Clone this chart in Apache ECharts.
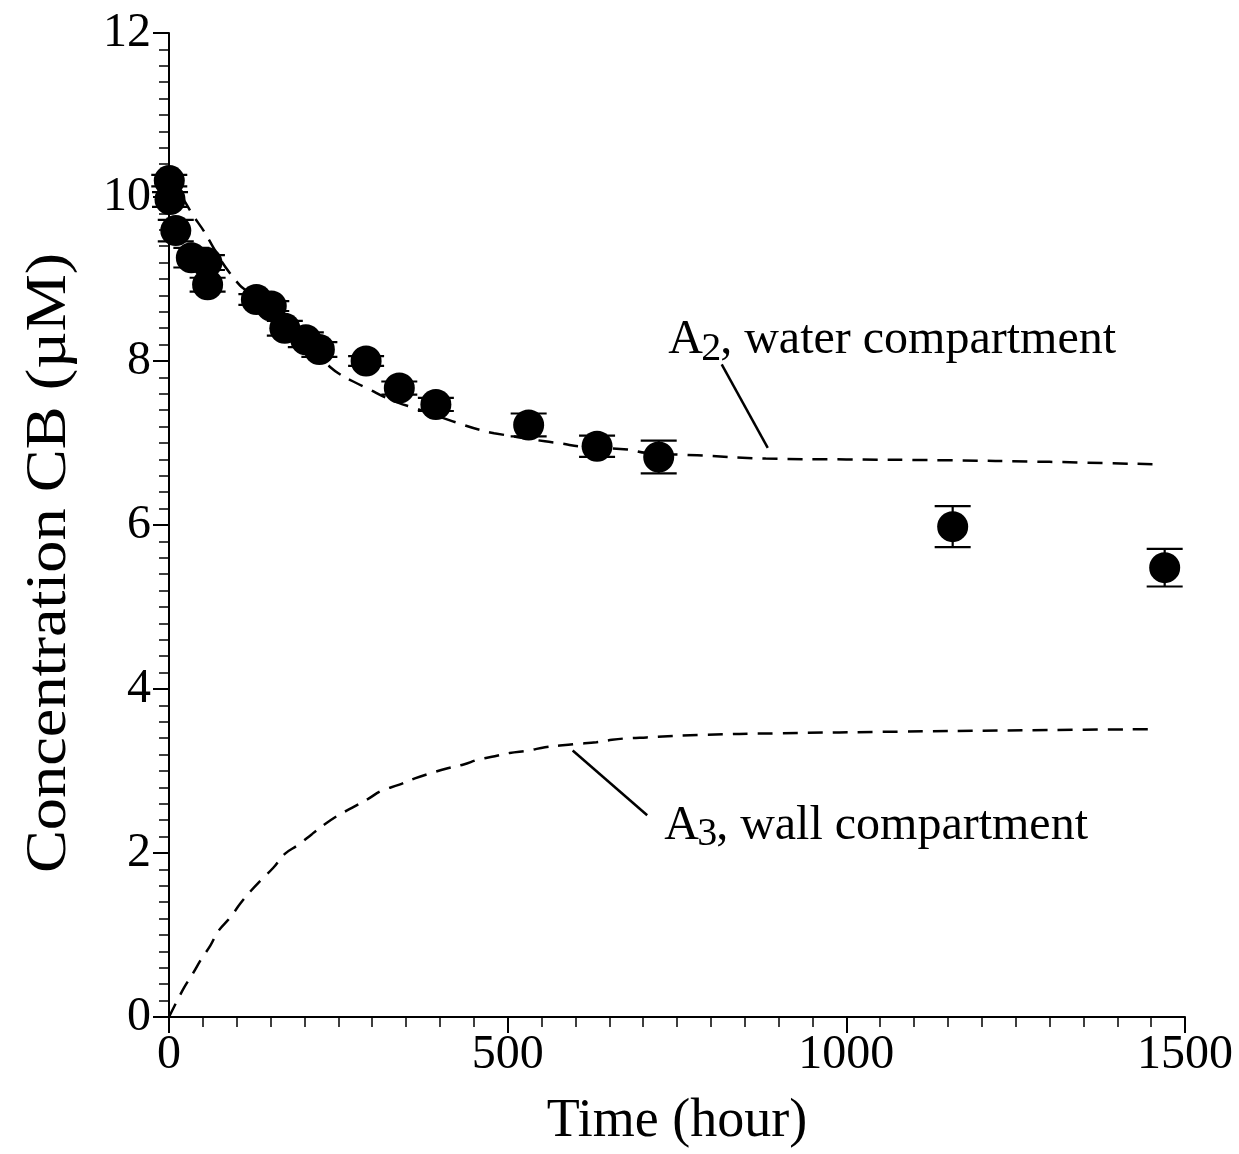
<!DOCTYPE html>
<html>
<head>
<meta charset="utf-8">
<script src="https://cdn.jsdelivr.net/npm/echarts@6/dist/echarts.min.js"></script>
<style>
  html, body { margin: 0; padding: 0; background: #fff; }
  #chart { width: 1239px; height: 1154px; }
</style>
</head>
<body>
<div id="chart"></div>
<script>
// measured points (time in hours, concentration in uM, error bar half length)
var obsTime = [0.4, 1.5, 10, 33, 56, 57, 129, 151, 171, 202, 222, 291, 340, 394, 531, 632, 723, 1157, 1470];
var obsConc = [10.20, 9.97, 9.59, 9.26, 9.20, 8.93, 8.75, 8.67, 8.40, 8.26, 8.14, 8.00, 7.67, 7.47, 7.22, 6.96, 6.83, 5.98, 5.48];
var obsErr = [0.07, 0.09, 0.13, 0.12, 0.09, 0.085, 0.065, 0.06, 0.09, 0.09, 0.09, 0.06, 0.08, 0.08, 0.14, 0.13, 0.2, 0.25, 0.23];

// A2, water compartment (dashed curve)
var a2Time = [0, 23, 36, 51, 63, 78, 90, 105, 115, 135, 160, 185, 210, 230, 250, 272, 297, 316, 339, 361, 403, 435, 459, 480, 555, 582, 605, 677, 704, 780, 881, 1000, 1140, 1300, 1456];
var a2Conc = [10.25, 9.95, 9.77, 9.59, 9.42, 9.21, 9.07, 8.92, 8.85, 8.66, 8.44, 8.26, 8.10, 7.98, 7.85, 7.75, 7.65, 7.57, 7.49, 7.43, 7.31, 7.22, 7.16, 7.12, 7.02, 6.99, 6.96, 6.92, 6.88, 6.85, 6.81, 6.80, 6.79, 6.77, 6.74];

// A3, wall compartment (dashed curve)
var a3Time = [0, 21, 36, 48, 61, 73, 90, 105, 120, 137, 154, 171, 191, 211, 230, 248, 270, 294, 314, 339, 363, 385, 410, 435, 457, 481, 503, 531, 555, 577, 602, 631, 654, 678, 705, 784, 900, 1079, 1300, 1456];
var a3Conc = [0, 0.34, 0.54, 0.71, 0.87, 1.05, 1.21, 1.38, 1.53, 1.68, 1.82, 1.99, 2.10, 2.23, 2.35, 2.45, 2.55, 2.66, 2.76, 2.83, 2.91, 2.97, 3.03, 3.08, 3.14, 3.18, 3.22, 3.25, 3.29, 3.31, 3.33, 3.35, 3.38, 3.40, 3.41, 3.44, 3.46, 3.48, 3.50, 3.51];

// leader lines from the labels to the curves
var leadA2Time = [816, 884];
var leadA2Conc = [7.96, 6.94];
var leadA3Time = [596, 706];
var leadA3Conc = [3.25, 2.46];

// where the curve labels sit (left end, middle of text)
var labelA2 = [737, 8.25];
var labelA3 = [731, 2.33];

var FONT = '"Liberation Serif", "Times New Roman", serif';

function zip(xs, ys, es) {
  return xs.map(function (x, i) { return es ? [x, ys[i], es[i]] : [x, ys[i]]; });
}

var chart = echarts.init(document.getElementById('chart'));

var dashed = { color: '#000', width: 2.5, type: [15, 10] };

var option = {
  animation: false,
  backgroundColor: '#fff',
  grid: { left: 169, top: 33, right: 54, bottom: 136, containLabel: false },
  xAxis: {
    type: 'value',
    min: 0, max: 1500, interval: 500,
    name: 'Time (hour)',
    nameLocation: 'middle',
    nameGap: 78,
    nameTextStyle: { fontFamily: FONT, fontSize: 54, color: '#000' },
    axisLine: { lineStyle: { color: '#000', width: 2 } },
    axisTick: { length: 16, lineStyle: { color: '#000', width: 2 } },
    minorTick: { show: true, splitNumber: 10, length: 10, lineStyle: { color: '#000', width: 1.5 } },
    splitLine: { show: false },
    axisLabel: { fontFamily: FONT, fontSize: 48, color: '#000', margin: 14, formatter: function (v) { return String(v); } }
  },
  yAxis: {
    type: 'value',
    min: 0, max: 12, interval: 2,
    axisLine: { lineStyle: { color: '#000', width: 2 } },
    axisTick: { length: 16, lineStyle: { color: '#000', width: 2 } },
    minorTick: { show: true, splitNumber: 10, length: 10, lineStyle: { color: '#000', width: 1.5 } },
    splitLine: { show: false },
    axisLabel: { fontFamily: FONT, fontSize: 48, color: '#000', margin: 18 }
  },
  series: [
    {
      name: 'A2', type: 'line', data: zip(a2Time, a2Conc),
      showSymbol: false, smooth: 0.4, lineStyle: dashed, z: 2
    },
    {
      name: 'A3', type: 'line', data: zip(a3Time, a3Conc),
      showSymbol: false, smooth: 0.4, lineStyle: dashed, z: 2
    },
    {
      type: 'line', data: zip(leadA2Time, leadA2Conc), showSymbol: false,
      lineStyle: { color: '#000', width: 2.5 }, z: 2
    },
    {
      type: 'line', data: zip(leadA3Time, leadA3Conc), showSymbol: false,
      lineStyle: { color: '#000', width: 2.5 }, z: 2
    },
    {
      // error bars
      type: 'custom', clip: false, z: 3,
      data: zip(obsTime, obsConc, obsErr),
      renderItem: function (params, api) {
        var x = api.value(0), y = api.value(1), e = api.value(2);
        var top = api.coord([x, y + e]);
        var bot = api.coord([x, y - e]);
        var hw = 18;
        var st = { stroke: '#000', lineWidth: 2.2 };
        return {
          type: 'group',
          children: [
            { type: 'line', shape: { x1: top[0], y1: top[1], x2: bot[0], y2: bot[1] }, style: st },
            { type: 'line', shape: { x1: top[0] - hw, y1: top[1], x2: top[0] + hw, y2: top[1] }, style: st },
            { type: 'line', shape: { x1: bot[0] - hw, y1: bot[1], x2: bot[0] + hw, y2: bot[1] }, style: st }
          ]
        };
      }
    },
    {
      type: 'scatter', data: zip(obsTime, obsConc),
      symbol: 'circle', symbolSize: 31,
      itemStyle: { color: '#000', opacity: 1 }, z: 4, clip: false
    }
  ]
};

chart.setOption(option);

// curve labels with subscripts, anchored in data space
function curveLabel(pos, sub, rest) {
  var p = chart.convertToPixel({ gridIndex: 0 }, pos);
  var base = { fontFamily: FONT, fill: '#000', textVerticalAlign: 'middle', textAlign: 'left' };
  return [
    { type: 'text', x: p[0], y: p[1], style: Object.assign({ text: 'A', fontSize: 48 }, base) },
    { type: 'text', x: p[0] + 33, y: p[1] + 9, style: Object.assign({ text: sub, fontSize: 40 }, base) },
    { type: 'text', x: p[0] + 52, y: p[1], style: Object.assign({ text: rest, fontSize: 48 }, base) }
  ];
}

chart.setOption({
  graphic: [].concat(
    curveLabel(labelA2, '2', ', water compartment'),
    curveLabel(labelA3, '3', ', wall compartment'),
    [{
      type: 'text', x: 50, y: 563, rotation: Math.PI / 2, scaleX: 1.15,
      style: {
        text: 'Concentration CB (\u00b5M)', fontFamily: FONT, fontSize: 56, fill: '#000',
        textAlign: 'center', textVerticalAlign: 'middle'
      }
    }]
  )
});
</script>
</body>
</html>
